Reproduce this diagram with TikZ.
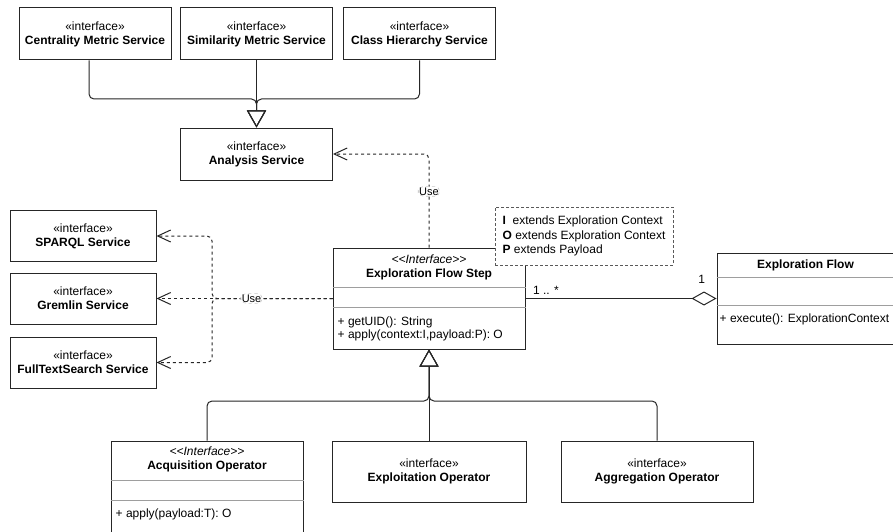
\documentclass[tikz,border=0pt]{standalone}
\usepackage{fontspec}
\setmainfont{Liberation Sans}
\usepackage{tikz}
\usetikzlibrary{arrows.meta,positioning}
\definecolor{LineDark}{HTML}{262626}
\definecolor{DividerGray}{HTML}{9E9E9E}
\definecolor{LabelGray}{HTML}{C8C8C8}

\begin{document}
\begin{tikzpicture}[
  x=1pt, y=-1pt,
  iface/.style={rectangle, draw=LineDark, fill=white, line width=1pt, inner sep=0pt,
               minimum width=152pt, minimum height=52pt, align=center,
               font={\fontsize{12}{14}\selectfont}},
  cbox/.style={rectangle, draw=LineDark, fill=white, line width=1pt, inner sep=0pt},
  ctitle/.style={align=center, inner sep=0pt, font={\fontsize{12}{14}\selectfont}},
  cops/.style={align=left, anchor=west, inner sep=0pt, font={\fontsize{12}{13.5}\selectfont}},
  divline/.style={draw=DividerGray, line width=1pt},
  notebox/.style={rectangle, draw=black!65, fill=white, line width=1pt, dash pattern=on 3pt off 2pt,
                  minimum width=178pt, minimum height=58pt, align=left, inner sep=0pt,
                  font={\fontsize{12}{14.5}\selectfont}},
  genline/.style={-{Triangle[open, length=17pt, width=19pt]}, line width=1pt, draw=LineDark,
                  rounded corners=5pt},
  depline/.style={-{Straight Barb[length=13pt, width=12pt]}, line width=1pt, draw=LineDark,
                  dash pattern=on 3pt off 3pt, rounded corners=5pt},
  assocline/.style={-{Diamond[open, length=25pt, width=14pt]}, line width=1pt, draw=LineDark},
  lbl/.style={font={\fontsize{11}{13}\selectfont}, fill=white, draw=LabelGray, line width=0.6pt,
              inner sep=1pt},
  mult/.style={font={\fontsize{12}{14}\selectfont}, inner sep=2pt},
]
  \path[use as bounding box, fill=white] (0,0) rectangle (893,532);

  % Nodes
  \node[iface] (cms) at (95,34) {«interface»\\\textbf{Centrality Metric Service}};
  \node[iface] (sms) at (256.5,34) {«interface»\\\textbf{Similarity Metric Service}};
  \node[iface] (chs) at (419.5,34) {«interface»\\\textbf{Class Hierarchy Service}};
  \node[iface] (ana) at (256.5,154) {«interface»\\\textbf{Analysis Service}};

  \node[iface, minimum width=146pt, minimum height=51pt] (sparql) at (83,236) {«interface»\\\textbf{SPARQL Service}};
  \node[iface, minimum width=146pt, minimum height=51pt] (gremlin) at (83,298.5) {«interface»\\\textbf{Gremlin Service}};
  \node[iface, minimum width=146pt, minimum height=51pt] (fts) at (83,362.5) {«interface»\\\textbf{FullTextSearch Service}};

  \node[cbox, minimum width=192pt, minimum height=101pt] (step) at (429,298.5) {};
  \node[ctitle] (steptitle) at ([yshift=-20pt]step.north) {\textit{<{}<Interface>{}>}\\\textbf{Exploration Flow Step}};
  \draw[divline] ([yshift=-40pt]step.north west) -- ([yshift=-40pt]step.north east);
  \draw[divline] ([yshift=-60pt]step.north west) -- ([yshift=-60pt]step.north east);
  \node[cops] (stepops) at ([xshift=5pt, yshift=-81.5pt]step.north west) {+ getUID(): String\\+ apply(context:I,payload:P): O};

  \node[notebox] (cond) at (584,236) {\textbf{I}\ \ extends Exploration Context\\\textbf{O} extends Exploration Context\\\textbf{P} extends Payload};

  \node[cbox, minimum width=177pt, minimum height=91pt] (flow) at (805.5,298.5) {};
  \node[ctitle] (flowtitle) at ([yshift=-12.5pt]flow.north) {\textbf{Exploration Flow}};
  \draw[divline] ([yshift=-25pt]flow.north west) -- ([yshift=-25pt]flow.north east);
  \draw[divline] ([yshift=-53pt]flow.north west) -- ([yshift=-53pt]flow.north east);
  \node[cops] (flowops) at ([xshift=3pt, yshift=-67pt]flow.north west) {+ execute(): ExplorationContext};

  \node[cbox, minimum width=192pt, minimum height=93pt] (acq) at (207,487.5) {};
  \node[ctitle] (acqtitle) at ([yshift=-18.5pt]acq.north) {\textit{<{}<Interface>{}>}\\\textbf{Acquisition Operator}};
  \draw[divline] ([yshift=-40pt]acq.north west) -- ([yshift=-40pt]acq.north east);
  \draw[divline] ([yshift=-60pt]acq.north west) -- ([yshift=-60pt]acq.north east);
  \node[cops] (acqops) at ([xshift=5pt, yshift=-74pt]acq.north west) {+ apply(payload:T): O};

  \node[iface, minimum width=194pt, minimum height=61pt] (exo) at (429,471.5) {«interface»\\\textbf{Exploitation Operator}};
  \node[iface, minimum width=192pt, minimum height=61pt] (agg) at (657,471.5) {«interface»\\\textbf{Aggregation Operator}};

  \coordinate (topjoin) at (256.5,99);
  \coordinate (botjoin) at (429,401);
  \coordinate (leftjoin) at (212,298.5);

  % Arrows
  \draw[genline] ([xshift=-6pt]cms.south) |- (topjoin) -- (ana.north);
  \draw[genline] (sms.south) -- (ana.north);
  \draw[genline] (chs.south) |- (topjoin) -- (ana.north);

  \draw[genline] (acq.north) |- (botjoin) -- (step.south);
  \draw[genline] (exo.north) -- (step.south);
  \draw[genline] (agg.north) |- (botjoin) -- (step.south);

  \draw[depline] (step.north) |- node[lbl, pos=0.3] {Use} (ana.east);
  \draw[depline] (step.west) -- (leftjoin) |- (sparql.east);
  \draw[depline] (step.west) -- (leftjoin) |- (fts.east);
  \draw[depline] (step.west) -- node[lbl, pos=0.46] {Use} (gremlin.east);

  \draw[assocline] (step.east) -- node[mult, pos=0, anchor=south west, xshift=5pt, yshift=2pt] {1 .. *}
    node[mult, pos=1, anchor=south east, xshift=-9pt, yshift=13pt] {1} (flow.west);
\end{tikzpicture}
\end{document}
